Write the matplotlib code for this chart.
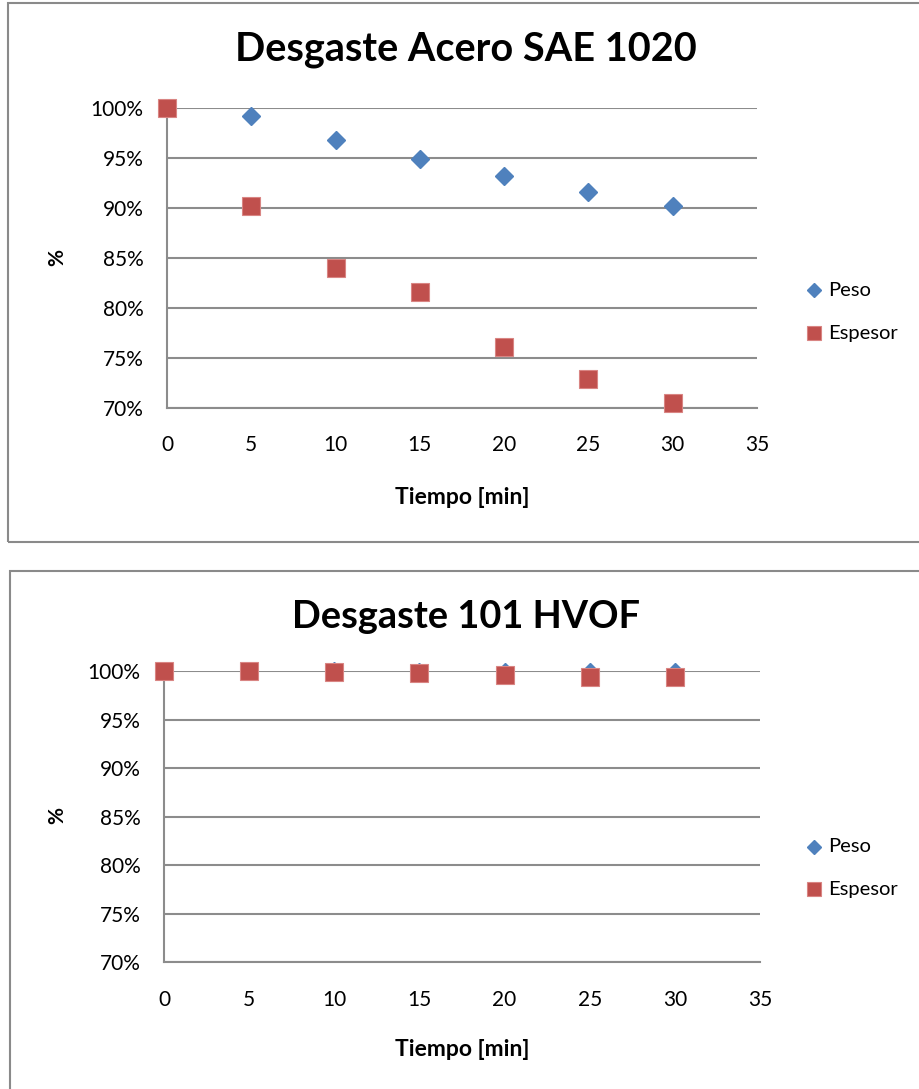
import matplotlib
matplotlib.use("Agg")
import matplotlib.pyplot as plt
from matplotlib.patches import Rectangle
from matplotlib.lines import Line2D

plt.rcParams['font.family'] = ['Lato', 'DejaVu Sans']

tiempo = [0, 5, 10, 15, 20, 25, 30]
peso_acero = [100.0, 99.2, 96.8, 94.9, 93.2, 91.6, 90.2]
espesor_acero = [100.0, 90.2, 84.0, 81.6, 76.1, 72.9, 70.5]
peso_hvof = [100.0, 100.0, 99.95, 99.9, 99.9, 99.9, 99.9]
espesor_hvof = [100.0, 100.0, 99.9, 99.8, 99.6, 99.4, 99.4]
titles = ["Desgaste Acero SAE 1020", "Desgaste 101 HVOF"]
yticks = [70, 75, 80, 85, 90, 95, 100]
xticks = [0, 5, 10, 15, 20, 25, 30, 35]

W, H = 919, 1089
fig = plt.figure(figsize=(W / 100, H / 100), dpi=100)

BLUE = '#4F81BD'
RED = '#C0504D'
GRID = '#8C8C8C'


def px_axes(left, top, right, bottom):
    return fig.add_axes([left / W, 1 - bottom / H, (right - left) / W, (bottom - top) / H])


def fx(x):
    return x / W


def fy(y):
    return 1 - y / H


# chart borders
fig.patches.append(Rectangle((fx(8), fy(542)), fx(930) - fx(8), fy(3) - fy(542),
                             transform=fig.transFigure, fill=False, edgecolor='#8A8A8A', lw=1.5))
fig.patches.append(Rectangle((fx(9.5), fy(1100)), fx(930) - fx(9.5), fy(571) - fy(1100),
                             transform=fig.transFigure, fill=False, edgecolor='#8A8A8A', lw=1.5))

configs = [
    dict(box=(167, 108, 757, 407.5), peso=peso_acero, esp=espesor_acero, title=titles[0],
         title_size=28.5, title_y=50, xlabel_y=498, ylabel=(57, 258), leg=(290, 333)),
    dict(box=(164, 671, 760, 962), peso=peso_hvof, esp=espesor_hvof, title=titles[1],
         title_size=27.3, title_y=617, xlabel_y=1050, ylabel=(57, 816), leg=(847, 889)),
]

for c in configs:
    ax = px_axes(*c['box'])
    ax.set_xlim(0, 35)
    ax.set_ylim(70, 100)
    ax.set_xticks(xticks)
    ax.set_yticks(yticks)
    ax.set_yticklabels([f"{v}%" for v in yticks])
    ax.tick_params(length=0, labelsize=15, colors='black')
    ax.tick_params(axis='x', pad=20)
    ax.tick_params(axis='y', pad=17)
    for s in ['top', 'right']:
        ax.spines[s].set_visible(False)
    for s in ['left', 'bottom']:
        ax.spines[s].set_color(GRID)
        ax.spines[s].set_linewidth(1.5)
    ax.grid(axis='y', color=GRID, lw=1.5)
    ax.set_axisbelow(True)
    ax.plot(tiempo, c['peso'], linestyle='none', marker='D', markersize=9,
            color=BLUE, markeredgecolor=BLUE, clip_on=False, zorder=3)
    ax.plot(tiempo, c['esp'], linestyle='none', marker='s', markersize=12.3,
            color=RED, markeredgecolor='#D98583', markeredgewidth=0.8, clip_on=False, zorder=4)

    fig.text(fx(466), fy(c['title_y']), c['title'], ha='center', va='center',
             fontsize=c['title_size'], fontweight='bold')
    fig.text(fx(462), fy(c['xlabel_y']), "Tiempo [min]", ha='center', va='center',
             fontsize=16.5, fontweight='bold')
    fig.text(fx(c['ylabel'][0]), fy(c['ylabel'][1]), "%", ha='center', va='center',
             fontsize=15, fontweight='bold', rotation=90)

    # legend
    ly1, ly2 = c['leg']
    fig.lines.append(Line2D([fx(814)], [fy(ly1)], transform=fig.transFigure, marker='D',
                            markersize=7, color=BLUE, linestyle='none'))
    fig.lines.append(Line2D([fx(814)], [fy(ly2)], transform=fig.transFigure, marker='s',
                            markersize=9.5, color=RED, markeredgecolor='#D98583',
                            markeredgewidth=0.8, linestyle='none'))
    fig.text(fx(828), fy(ly1), "Peso", ha='left', va='center', fontsize=14.5)
    fig.text(fx(828), fy(ly2), "Espesor", ha='left', va='center', fontsize=14.5)

fig.savefig("out.png", dpi=100, facecolor='white')
